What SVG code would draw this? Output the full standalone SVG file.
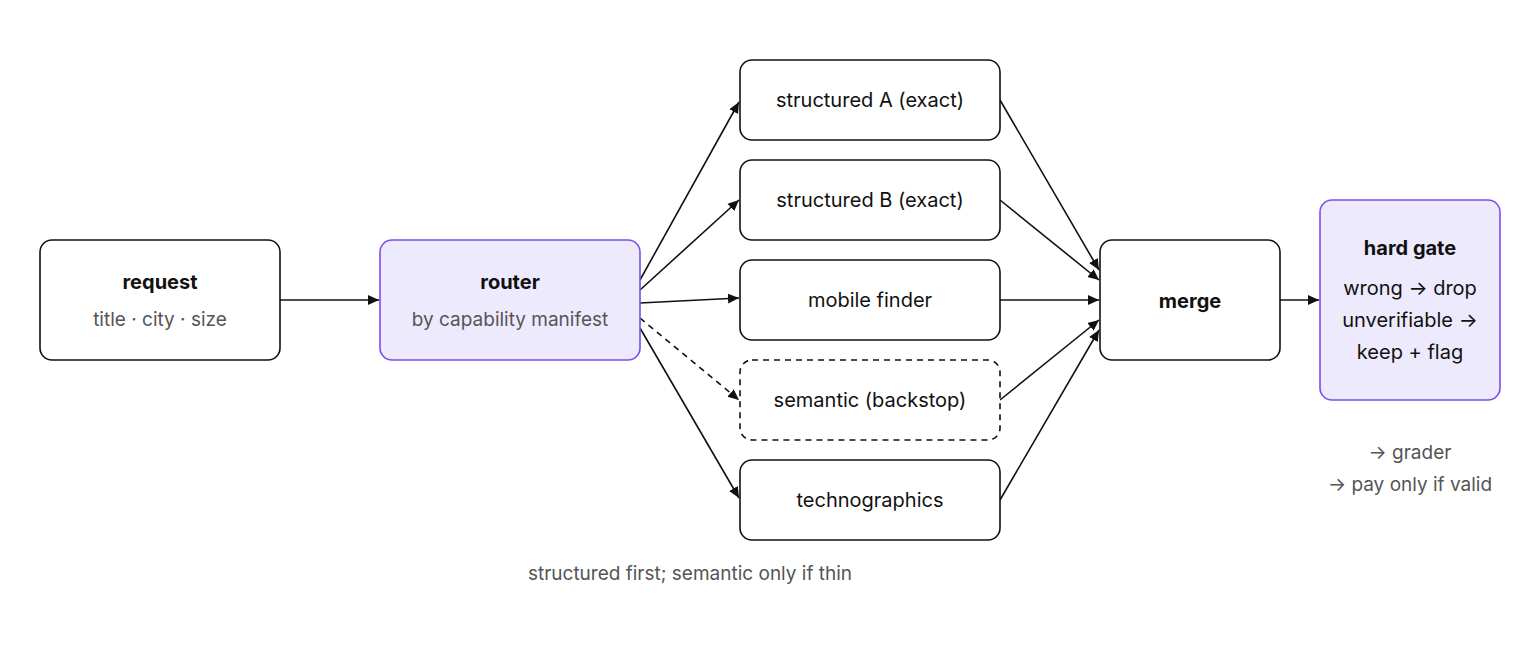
<svg xmlns="http://www.w3.org/2000/svg" width="1520" height="660" viewBox="0 0 1520 660">
<style>
.n{fill:#fff;stroke:#111;stroke-width:1.6}
.p{fill:#eeeafd;stroke:#7c4dea;stroke-width:1.6}
text{font-family:Inter,"Liberation Sans",sans-serif;text-anchor:middle;fill:#111}
.t{font-size:20px}
.b{font-size:20px;font-weight:700}
.s{font-size:19px;fill:#555}
.e{stroke:#111;stroke-width:1.6;fill:none;marker-end:url(#a)}
</style>
<defs><marker id="a" markerWidth="12" markerHeight="12" refX="11" refY="6" orient="auto" markerUnits="userSpaceOnUse"><path d="M0,1 L11,6 L0,11 Z" fill="#111"/></marker></defs>
<rect width="1520" height="660" fill="#fff"/>
<g id="connectors">
<line class="e" x1="280" y1="300" x2="379" y2="300"/>
<line class="e" x1="640" y1="280" x2="739" y2="102"/>
<line class="e" x1="640" y1="290" x2="739" y2="200"/>
<line class="e" x1="640" y1="303" x2="739" y2="298"/>
<line class="e" x1="640" y1="318" x2="739" y2="400" stroke-dasharray="6,5"/>
<line class="e" x1="640" y1="328" x2="739" y2="498"/>
<line class="e" x1="1000" y1="100" x2="1099" y2="270"/>
<line class="e" x1="1000" y1="200" x2="1099" y2="280"/>
<line class="e" x1="1000" y1="300" x2="1099" y2="300"/>
<line class="e" x1="1000" y1="400" x2="1099" y2="320"/>
<line class="e" x1="1000" y1="500" x2="1099" y2="330"/>
<line class="e" x1="1280" y1="300" x2="1319" y2="300"/>
</g>
<g id="request"><rect class="n" x="40" y="240" width="240" height="120" rx="12"/><text class="b" x="160" y="289">request</text><text class="s" x="160" y="326">title · city · size</text></g>
<g id="router"><rect class="p" x="380" y="240" width="260" height="120" rx="12"/><text class="b" x="510" y="289">router</text><text class="s" x="510" y="326">by capability manifest</text></g>
<g id="sa"><rect class="n" x="740" y="60" width="260" height="80" rx="12"/><text class="t" x="870" y="107">structured A (exact)</text></g>
<g id="sb"><rect class="n" x="740" y="160" width="260" height="80" rx="12"/><text class="t" x="870" y="207">structured B (exact)</text></g>
<g id="mobile"><rect class="n" x="740" y="260" width="260" height="80" rx="12"/><text class="t" x="870" y="307">mobile finder</text></g>
<g id="semantic"><rect class="n" x="740" y="360" width="260" height="80" rx="12" stroke-dasharray="6,5"/><text class="t" x="870" y="407">semantic (backstop)</text></g>
<g id="techno"><rect class="n" x="740" y="460" width="260" height="80" rx="12"/><text class="t" x="870" y="507">technographics</text></g>
<g id="merge"><rect class="n" x="1100" y="240" width="180" height="120" rx="12"/><text class="b" x="1190" y="308">merge</text></g>
<g id="gate"><rect class="p" x="1320" y="200" width="180" height="200" rx="12"/><text class="b" x="1410" y="255">hard gate</text><text class="t" x="1410" y="295">wrong → drop</text><text class="t" x="1410" y="327">unverifiable →</text><text class="t" x="1410" y="359">keep + flag</text></g>
<g id="notes"><text class="s" x="1410" y="459">→ grader</text><text class="s" x="1410" y="491">→ pay only if valid</text><text class="s" x="690" y="580">structured first; semantic only if thin</text></g>
</svg>
